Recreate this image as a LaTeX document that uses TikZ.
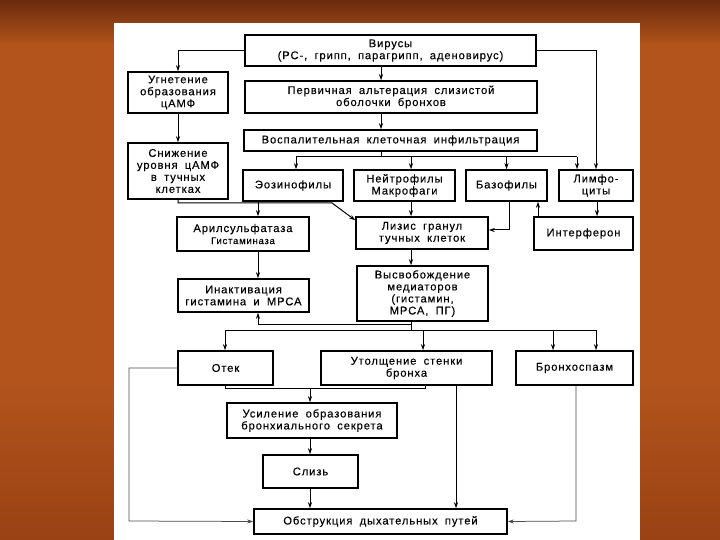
\documentclass[tikz,border=0pt]{standalone}
\usepackage{fontspec}
\setmainfont{Liberation Sans}[LetterSpace=8, WordSpace=1.8, FakeBold=0.15]
\usetikzlibrary{arrows.meta,calc}
\definecolor{bgtop}{HTML}{6A2A0C}
\definecolor{bgmid}{HTML}{B2541C}
\definecolor{bgbot}{HTML}{9A4214}
\begin{document}
\begin{tikzpicture}[x=1pt,y=-1pt,
  box/.style={draw=black, line width=1.5pt, fill=white, align=center, inner sep=1pt,
    font=\fontsize{11.2}{12}\selectfont},
  arr/.style={line width=1pt, -{Stealth[length=6pt,width=4pt]}},
  ln/.style={line width=1pt},
  thinln/.style={line width=0.75pt, draw=black!70}]
\useasboundingbox (0,0) rectangle (720,540);
\fill[bgmid] (0,0) rectangle (720,540);
\shade[top color=bgtop, bottom color=bgmid] (0,0) rectangle (720,45);
\shade[top color=bgmid, bottom color=bgbot] (0,380) rectangle (720,540);
\fill[white] (114,23) rectangle (640,541);

% nodes
\node[box, minimum width=291, minimum height=31] (vir) at (390.5,50.5) {Вирусы\\(РС-, грипп, парагрипп, аденовирус)};
\node[box, minimum width=100, minimum height=41] (ugn) at (178,92.5) {Угнетение\\образования\\цАМФ};
\node[box, minimum width=292, minimum height=32] (perv) at (391,97) {Первичная альтерация слизистой\\оболочки бронхов};
\node[box, minimum width=293, minimum height=21] (vosp) at (390.5,140.5) {Воспалительная клеточная инфильтрация};
\node[box, minimum width=100, minimum height=56] (snizh) at (178,171) {Снижение\\уровня цАМФ\\в тучных\\клетках};
\node[box, minimum width=100, minimum height=31] (eoz) at (293,185.5) {Эозинофилы};
\node[box, minimum width=101, minimum height=31] (neut) at (404.5,185.5) {Нейтрофилы\\Макрофаги};
\node[box, minimum width=81, minimum height=31] (baz) at (506.5,185.5) {Базофилы};
\node[box, minimum width=74, minimum height=31] (limf) at (596,185.5) {Лимфо-\\циты};
\node[box, minimum width=132, minimum height=34] (aril) at (243,234) {Арилсульфатаза\\{\fontsize{9.5}{11}\selectfont Гистаминаза}};
\node[box, minimum width=132, minimum height=32] (lizis) at (422,233) {Лизис гранул\\тучных клеток};
\node[box, minimum width=99, minimum height=33] (interf) at (583.5,233.5) {Интерферон};
\node[box, minimum width=131, minimum height=33] (inakt) at (243.5,295.5) {Инактивация\\гистамина и МРСА};
\node[box, minimum width=131, minimum height=55] (vysv) at (422.5,293.5) {Высвобождение\\медиаторов\\(гистамин,\\МРСА, ПГ)};
\node[box, minimum width=95, minimum height=34] (otek) at (225.5,368) {Отек};
\node[box, minimum width=171, minimum height=34] (utol) at (406.5,368) {Утолщение стенки\\бронха};
\node[box, minimum width=117, minimum height=34] (bronh) at (574.5,368) {Бронхоспазм};
\node[box, minimum width=170, minimum height=35] (usil) at (312,420.5) {Усиление образования\\бронхиального секрета};
\node[box, minimum width=95, minimum height=33] (sliz) at (310.5,471.5) {Слизь};
\node[box, minimum width=253, minimum height=25] (obstr) at (380.5,521.5) {Обструкция дыхательных путей};

% column / junction coordinates
\coordinate (cA) at (381,0);
\coordinate (cN) at (411,0);
\coordinate (cE) at (258,0);
\coordinate (cI) at (538,0);
\coordinate (cR) at (597,0);
\coordinate (cS) at (310,0);
\coordinate (cT) at (456,0);
\coordinate (cU) at (423,0);
\coordinate (cP) at (553,0);
\coordinate (br) at (381,157);
\coordinate (bL) at (296,157);
\coordinate (bR) at (577,157);
\coordinate (sd) at (332,203);
\coordinate (cB) at (509,230);
\coordinate (u1) at (411,324);
\coordinate (u2) at (411,330);
\coordinate (u2L) at (225,330);
\coordinate (u2R) at (596,330);
\coordinate (vL) at (225,388);
\coordinate (vR) at (425,388);
\coordinate (wL) at (129,521);
\coordinate (wR) at (576,521);

% connectors
\draw[arr] (vir.west) -| (ugn.north);
\draw[arr] (vir.east) -| (limf.north);
\draw[arr] (vir.south -| cA) -- (perv.north -| cA);
\draw[arr] (perv.south -| cA) -- (vosp.north -| cA);
\draw[ln] (vosp.south -| cA) -- (br);
\draw[ln] (bL) -- (bR);
\draw[arr] (bL) -- (bL |- eoz.north);
\draw[arr] (cN |- br) -- (cN |- neut.north);
\draw[arr] (baz.north |- br) -- (baz.north);
\draw[arr] (bR) -- (bR |- limf.north);
\draw[arr] (ugn.south) -- (snizh.north);
\draw[arr] (snizh.south) |- (sd) -- ([yshift=-4pt]lizis.north west);
\draw[arr] (eoz.south -| cE) -- (aril.north -| cE);
\draw[arr] (neut.south -| cN) -- (lizis.north -| cN);
\draw[arr] (cB |- baz.south) -- (cB) -- (cB -| lizis.east);
\draw[arr] (interf.north -| cI) -- (baz.south -| cI);
\draw[arr] (limf.south -| cR) -- (interf.north -| cR);
\draw[arr] (aril.south -| cE) -- (inakt.north -| cE);
\draw[arr] (lizis.south -| cN) -- (vysv.north -| cN);
\draw[arr] (vysv.south -| cN) -- (u1) -| (cE |- inakt.south);
\draw[ln] (u1) -- (u2);
\draw[ln] (u2L) -- (u2R);
\draw[arr] (u2L) -- (u2L |- otek.north);
\draw[arr] (cU |- u2) -- (cU |- utol.north);
\draw[arr] (cP |- u2) -- (cP |- bronh.north);
\draw[arr] (u2R) -- (u2R |- bronh.north);
\draw[ln] (vL |- otek.south) -- (vL) -- (vR) -- (vR |- utol.south);
\draw[arr] (cS |- vL) -- (cS |- usil.north);
\draw[arr] (usil.south -| cS) -- (sliz.north -| cS);
\draw[arr] (sliz.south -| cS) -- (obstr.north -| cS);
\draw[arr] (utol.south -| cT) -- (obstr.north -| cT);
\draw[arr, thinln] (otek.west) -| (wL) -- (obstr.west);
\draw[arr, thinln] (wR |- bronh.south) -- (wR) -- (obstr.east);
\end{tikzpicture}
\end{document}
